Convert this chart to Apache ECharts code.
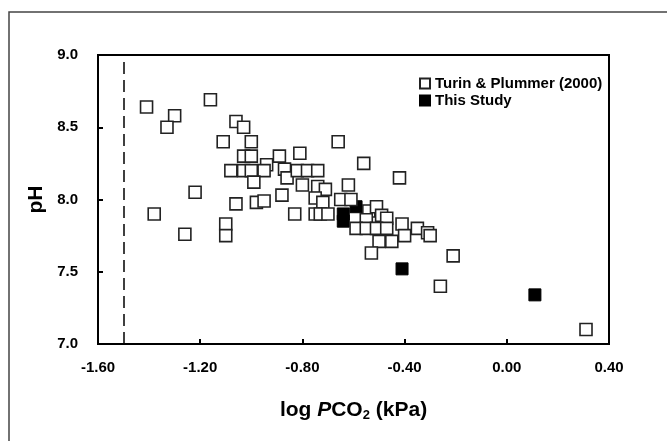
<!DOCTYPE html>
<html>
<head>
<meta charset="utf-8">
<script src="https://cdn.jsdelivr.net/npm/echarts@6/dist/echarts.min.js"></script>
<style>html,body{margin:0;padding:0;background:#fff;}#c{width:667px;height:441px;}</style>
</head>
<body>
<div id="c"></div>
<script>
var turinPCO2 = [-1.41,-1.16,-1.30,-1.33,-1.06,-1.03,-1.11,-1.00,-1.03,-1.00,-0.89,-0.94,-1.08,-1.03,-1.00,-0.95,-0.99,-1.22,-1.06,-0.98,-0.95,-1.38,-1.10,-1.10,-1.26,-0.87,-0.86,-0.88,-0.81,-0.66,-0.56,-0.42,-0.82,-0.78,-0.74,-0.80,-0.74,-0.71,-0.62,-0.75,-0.72,-0.65,-0.61,-0.54,-0.51,-0.83,-0.75,-0.73,-0.70,-0.55,-0.49,-0.47,-0.59,-0.55,-0.51,-0.47,-0.41,-0.35,-0.31,-0.30,-0.40,-0.50,-0.45,-0.53,-0.21,-0.26,0.31];
var turinPH   = [8.64,8.69,8.58,8.50,8.54,8.50,8.40,8.40,8.30,8.30,8.30,8.24,8.20,8.20,8.20,8.20,8.12,8.05,7.97,7.98,7.99,7.90,7.83,7.75,7.76,8.21,8.15,8.03,8.32,8.40,8.25,8.15,8.20,8.20,8.20,8.10,8.09,8.07,8.10,8.01,7.98,8.00,8.00,7.92,7.95,7.90,7.90,7.90,7.90,7.86,7.89,7.87,7.80,7.80,7.80,7.80,7.83,7.80,7.77,7.75,7.75,7.71,7.71,7.63,7.61,7.40,7.10];
var studyPCO2 = [-0.80,-0.59,-0.64,-0.64,-0.41,0.11];
var studyPH   = [8.20,7.95,7.90,7.85,7.52,7.34];
var xTicks = [-1.6,-1.2,-0.8,-0.4,0.0,0.4];
var yTicks = [7.0,7.5,8.0,8.5,9.0];
var limitPCO2 = -1.5;

function pairs(a,b){ return a.map(function(v,i){ return [v,b[i]]; }); }

var chart = echarts.init(document.getElementById('c'), null, {renderer:'canvas'});
var font = '"Liberation Sans", Arial, sans-serif';
chart.setOption({
  animation:false,
  backgroundColor:'#fff',
  graphic:[{type:'rect', shape:{x:9,y:12,width:800,height:600}, style:{fill:'none', stroke:'#444', lineWidth:1.5}, z:-1}],
  grid:{left:98,right:58,top:55,bottom:97,show:true,borderColor:'#000',borderWidth:2,backgroundColor:'transparent'},
  legend:{
    orient:'vertical', left:414, top:71, itemWidth:10, itemHeight:10, itemGap:2,
    data:['Turin & Plummer (2000)','This Study'],
    textStyle:{fontFamily:font,fontWeight:'bold',fontSize:15,lineHeight:15,color:'#000'}
  },
  xAxis:{
    type:'value', min:xTicks[0], max:xTicks[xTicks.length-1], interval:0.4,
    name:'{n|log }{i|P}{n|CO}{s|2}{n| (kPa)}', nameLocation:'middle', nameGap:55,
    nameTextStyle:{rich:{
      n:{fontFamily:font,fontWeight:'bold',fontSize:21,color:'#000'},
      i:{fontFamily:font,fontWeight:'bold',fontStyle:'italic',fontSize:21,color:'#000'},
      s:{fontFamily:font,fontWeight:'bold',fontSize:13,color:'#000',padding:[10,0,0,0]}
    }},
    axisLine:{show:true,onZero:false,lineStyle:{color:'#000',width:2}},
    axisTick:{show:true,inside:true,length:5,lineStyle:{color:'#000',width:2}},
    splitLine:{show:false},
    axisLabel:{margin:16,fontFamily:font,fontWeight:'bold',fontSize:15,color:'#000',
      formatter:function(v){ if(Math.abs(v)<1e-9) v=0; return v.toFixed(2); }}
  },
  yAxis:{
    type:'value', min:yTicks[0], max:yTicks[yTicks.length-1], interval:0.5,
    name:'pH', nameLocation:'middle', nameGap:48, nameRotate:90,
    nameTextStyle:{fontFamily:font,fontWeight:'bold',fontSize:21,color:'#000'},
    axisLine:{show:true,onZero:false,lineStyle:{color:'#000',width:2}},
    axisTick:{show:true,inside:true,length:5,lineStyle:{color:'#000',width:2}},
    splitLine:{show:false},
    axisLabel:{margin:20,fontFamily:font,fontWeight:'bold',fontSize:15,color:'#000',
      formatter:function(v){ return v.toFixed(1); }}
  },
  series:[
    {
      name:'This Study', type:'scatter', symbol:'rect', symbolSize:12, z:2,
      itemStyle:{color:'#000',borderColor:'#000',borderWidth:1,opacity:1},
      data:pairs(studyPCO2,studyPH),
      markLine:{silent:true,symbol:'none',label:{show:false},
        lineStyle:{color:'#000',width:1.5,type:[12,6]},
        data:[{xAxis:limitPCO2}]}
    },
    {
      name:'Turin & Plummer (2000)', type:'scatter', symbol:'rect', symbolSize:12, z:3,
      itemStyle:{color:'#fff',borderColor:'#222',borderWidth:1.6,opacity:1},
      data:pairs(turinPCO2,turinPH)
    }
  ]
});
</script>
</body>
</html>
